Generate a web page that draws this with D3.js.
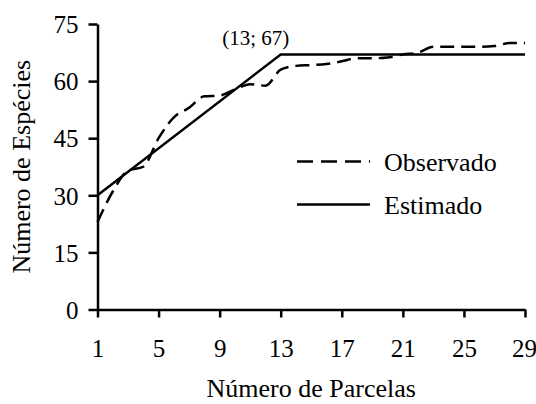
<!DOCTYPE html>
<html>
<head>
<meta charset="utf-8">
<script src="https://cdn.jsdelivr.net/npm/d3@7"></script>
</head>
<body style="margin:0">
<script>
// parcel number (x) and observed species count
const parcels = [1, 2, 3, 4, 5, 6, 7, 8, 9, 10, 11, 12, 13, 14, 15,
  16, 17, 18, 19, 20, 21, 22, 23, 24, 25, 26, 27, 28, 29];
const observed = [23, 31, 36.5, 37.5, 45, 50.5, 53, 56, 56.2, 57.8, 59.2, 58.8, 63, 64, 64.2,
  64.5, 65.2, 66, 66, 66.2, 67, 67.5, 69, 69, 69, 69, 69.2, 70, 70];
// linear plateau fit: break points
const estX = [1, 13, 29];
const estY = [30, 67, 67];
const xTicks = [1, 5, 9, 13, 17, 21, 25, 29];
const yTicks = [0, 15, 30, 45, 60, 75];

const FONT = "'Liberation Serif'";
const width = 536, height = 404;
const margin = { top: 24, right: 11, bottom: 94.5, left: 97.5 };
const w = width - margin.left - margin.right;
const h = height - margin.top - margin.bottom;

const svg = d3.select("body").append("svg")
  .attr("width", width)
  .attr("height", height);

const g = svg.append("g")
  .attr("transform", "translate(" + margin.left + "," + margin.top + ")");

const x = d3.scaleLinear().domain([1, 29]).range([0, w]);
const y = d3.scaleLinear().domain([0, 75]).range([h, 0]);

const xAxis = g.append("g")
  .attr("transform", "translate(0," + h + ")")
  .call(d3.axisBottom(x).tickValues(xTicks).tickSize(8).tickPadding(22).tickSizeOuter(0));
const yAxis = g.append("g")
  .call(d3.axisLeft(y).tickValues(yTicks).tickSize(9).tickPadding(10).tickSizeOuter(0));

[xAxis, yAxis].forEach(a => {
  a.select(".domain").attr("stroke", "#000").attr("stroke-width", 2.5);
  a.selectAll(".tick line").attr("stroke", "#000").attr("stroke-width", 2.5);
  a.selectAll("text")
    .style("font-family", FONT)
    .style("font-size", "25px")
    .attr("fill", "#000");
});
xAxis.selectAll("text").attr("dy", "0.71em");
yAxis.selectAll("text").attr("dy", "0.35em");
// keep the last label inside the picture
xAxis.selectAll(".tick text").filter(d => d === 29).attr("x", -1);

const line = d3.line()
  .x(d => x(d[0]))
  .y(d => y(d[1]));

g.append("path")
  .datum(estX.map((v, i) => [v, estY[i]]))
  .attr("fill", "none")
  .attr("stroke", "#000")
  .attr("stroke-width", 2.5)
  .attr("d", line);

g.append("path")
  .datum(parcels.map((v, i) => [v, observed[i]]))
  .attr("fill", "none")
  .attr("stroke", "#000")
  .attr("stroke-width", 2.5)
  .attr("stroke-dasharray", "14,7")
  .attr("d", line.curve(d3.curveMonotoneX));

// annotation at the break point
g.append("text")
  .attr("x", x(estX[1]) - 25)
  .attr("y", 21)
  .attr("text-anchor", "middle")
  .style("font-family", FONT)
  .style("font-size", "21px")
  .text("(13; 67)");

// legend
const legend = g.append("g").attr("transform", "translate(199.5,137.5)");
[["Observado", "16,8"], ["Estimado", null]].forEach((d, i) => {
  const row = legend.append("g").attr("transform", "translate(0," + i * 43 + ")");
  row.append("line")
    .attr("x1", 0).attr("x2", 73)
    .attr("stroke", "#000").attr("stroke-width", 2.5)
    .attr("stroke-dasharray", d[1]);
  row.append("text")
    .attr("x", 87).attr("dy", "0.35em")
    .style("font-family", FONT)
    .style("font-size", "26px")
    .text(d[0]);
});

// axis titles
svg.append("text")
  .attr("x", margin.left + w / 2)
  .attr("y", 397)
  .attr("text-anchor", "middle")
  .style("font-family", FONT)
  .style("font-size", "26px")
  .text("Número de Parcelas");

svg.append("text")
  .attr("transform", "translate(30," + (margin.top + h / 2) + ") rotate(-90)")
  .attr("text-anchor", "middle")
  .style("font-family", FONT)
  .style("font-size", "26px")
  .text("Número de Espécies");
</script>
</body>
</html>
